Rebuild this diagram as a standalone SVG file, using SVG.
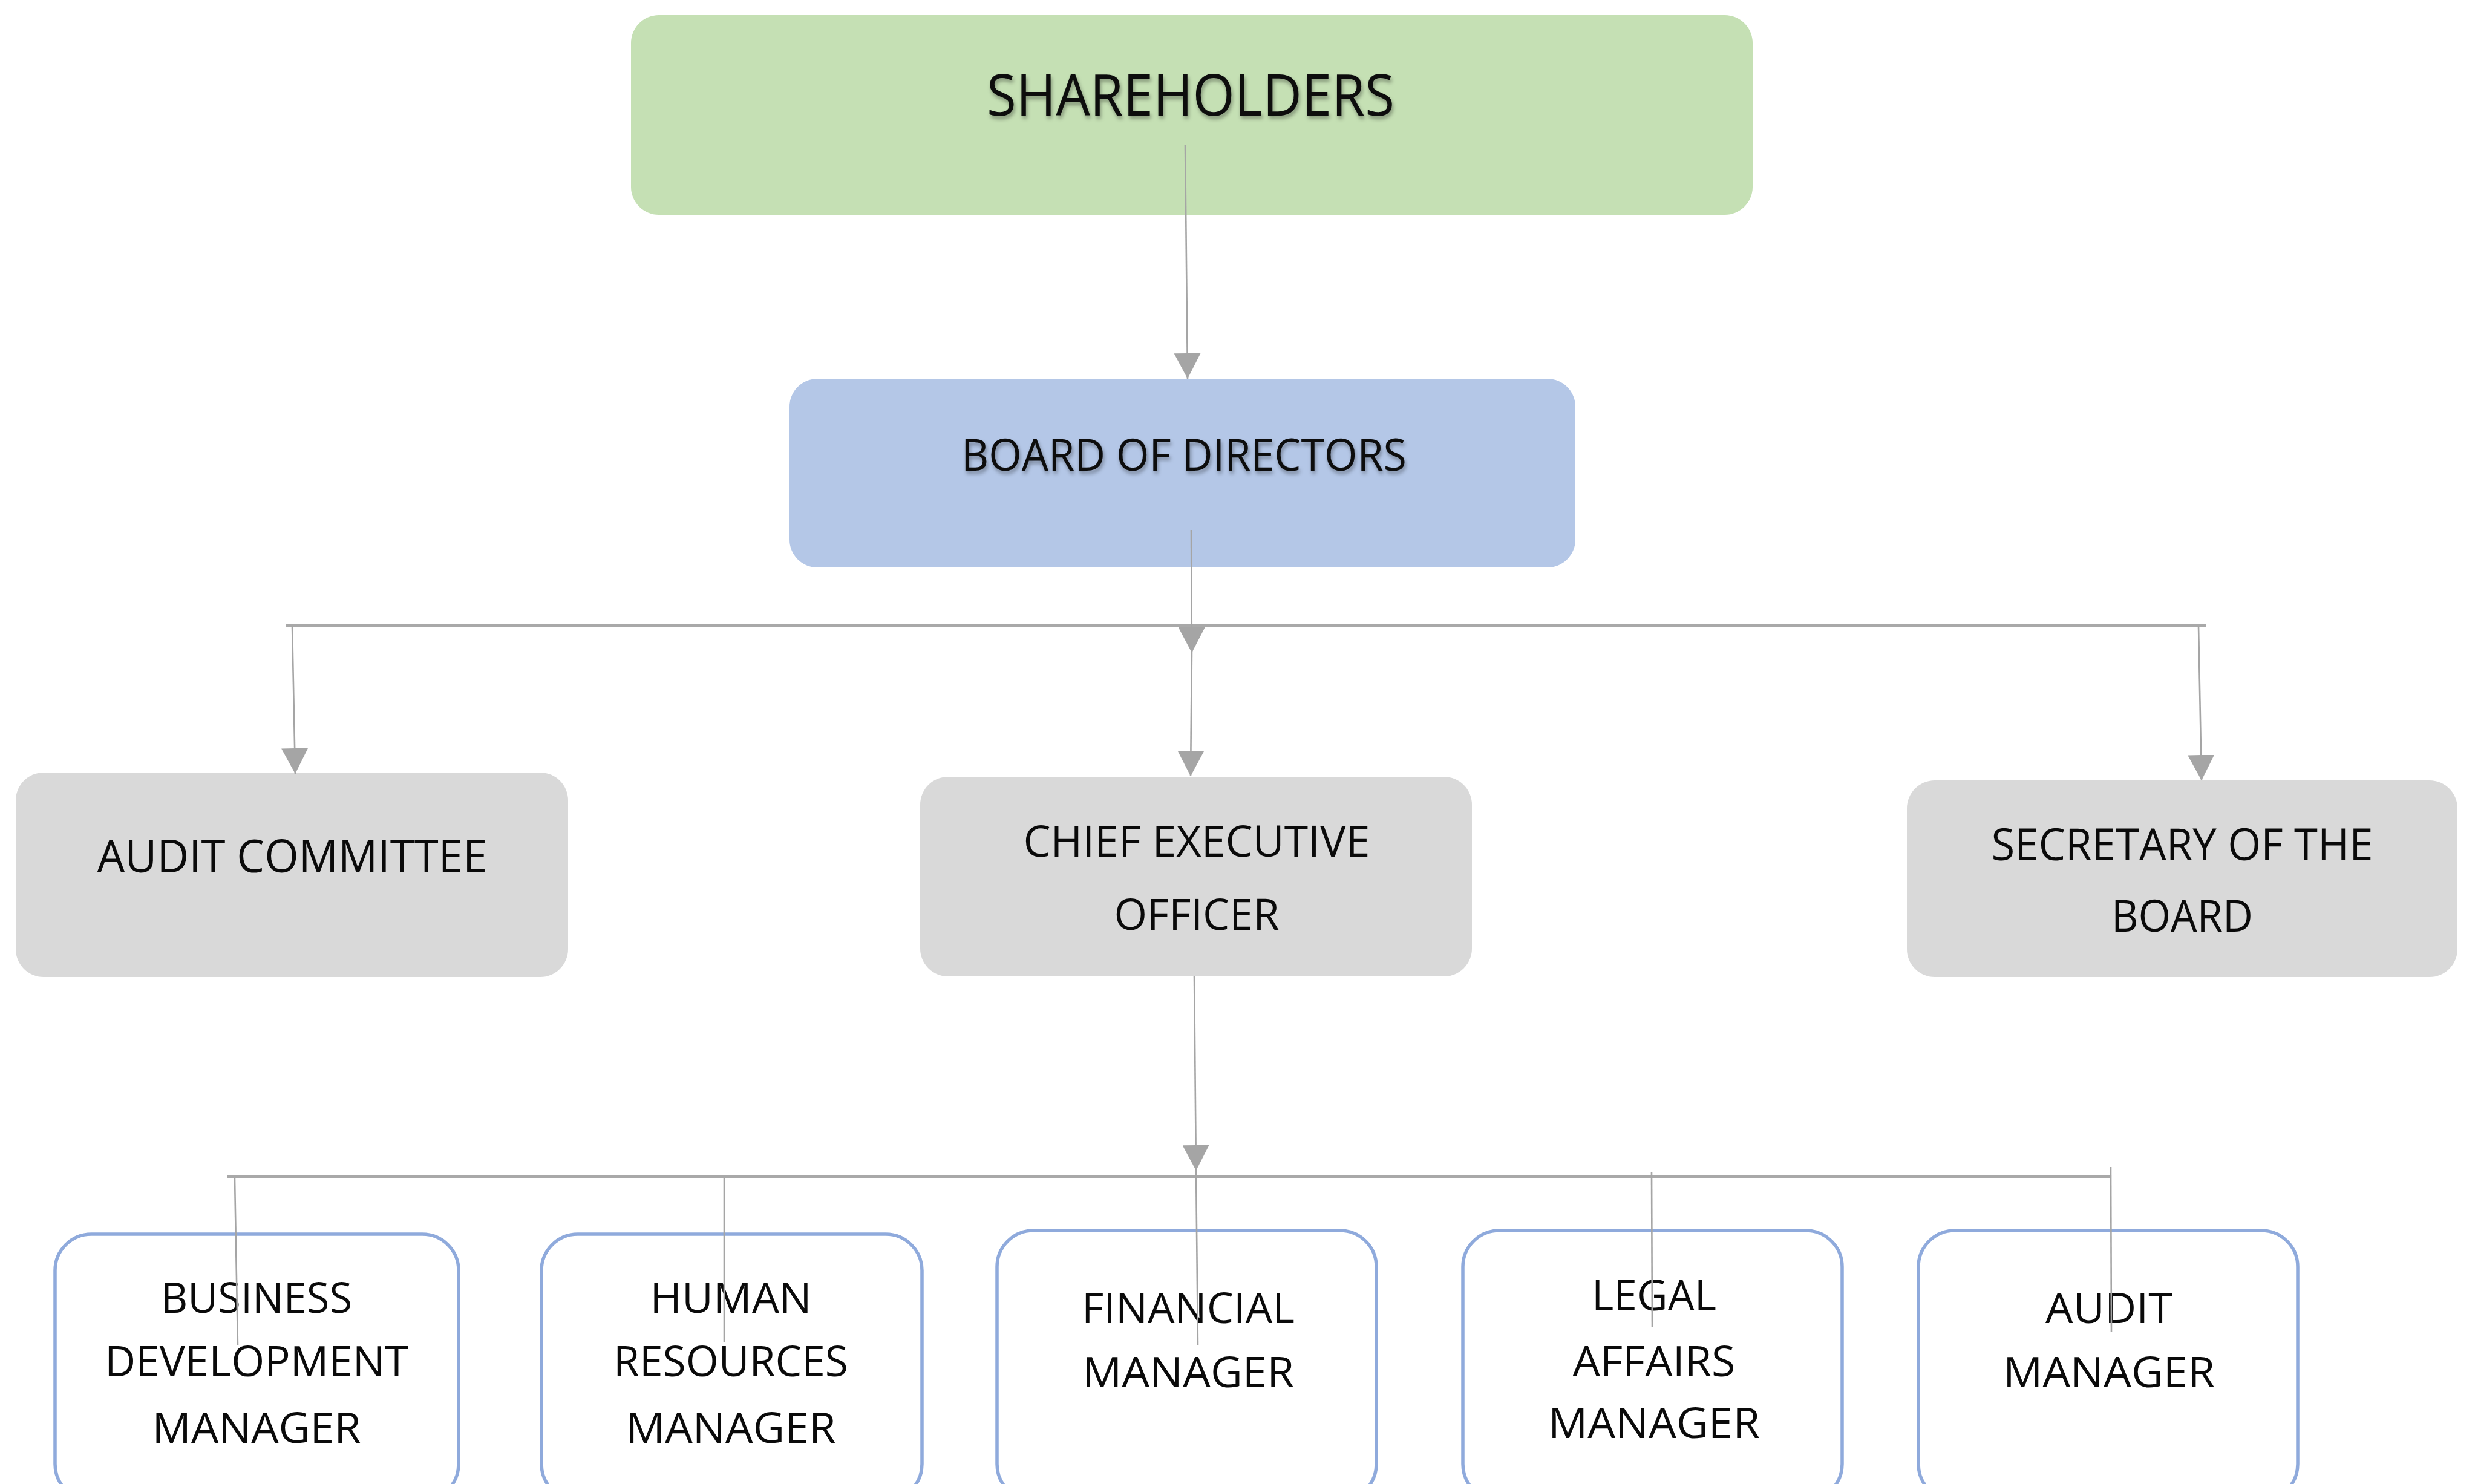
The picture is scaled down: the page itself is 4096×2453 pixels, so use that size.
<svg xmlns="http://www.w3.org/2000/svg" width="4096" height="2453" viewBox="0 0 4096 2453">
  <style>
    .lbl { font-family: "Open Sans", "Noto Sans", "Liberation Sans", sans-serif; fill: #0a0a0a; text-anchor: middle; }
    .green { fill: #C5E0B4; }
    .blue { fill: #B4C7E7; }
    .grey { fill: #D9D9D9; }
    .mgr { fill: #FFFFFF; stroke: #8FAADC; stroke-width: 5.5; }
    .link { fill: none; stroke: #A5A5A5; stroke-width: 2.6; }
    .bar { fill: none; stroke: #A9A9A9; stroke-width: 4; }
  </style>
  <defs>
    <!-- arrowhead drawn along +x so it follows the connector direction -->
    <marker id="arrow" markerUnits="userSpaceOnUse" markerWidth="44" markerHeight="44" viewBox="0 0 44 44" refX="42" refY="22" orient="auto">
      <path d="M0 0 L42 22 L0 44 Z" fill="#A5A5A5"/>
    </marker>
    <filter id="soft" x="-10%" y="-30%" width="120%" height="170%">
      <feDropShadow dx="2" dy="5" stdDeviation="3" flood-color="#000" flood-opacity="0.35"/>
    </filter>
  </defs>

  <rect width="4096" height="2453" fill="#FFFFFF"/>

  <!-- top level -->
  <g id="shareholders">
    <rect class="green" x="1043" y="25" width="1854" height="330" rx="46"/>
    <text class="lbl" x="1968" y="191" font-size="95" textLength="674" lengthAdjust="spacingAndGlyphs" filter="url(#soft)">SHAREHOLDERS</text>
  </g>

  <g id="board">
    <rect class="blue" x="1305" y="626" width="1299" height="312" rx="46"/>
    <text class="lbl" x="1957" y="778" font-size="74" textLength="736" lengthAdjust="spacingAndGlyphs" filter="url(#soft)">BOARD OF DIRECTORS</text>
  </g>

  <!-- second level -->
  <g id="audit-committee">
    <rect class="grey" x="26" y="1277" width="913" height="338" rx="46"/>
    <text class="lbl" x="483" y="1442" font-size="75" textLength="645" lengthAdjust="spacingAndGlyphs">AUDIT COMMITTEE</text>
  </g>

  <g id="ceo">
    <rect class="grey" x="1521" y="1284" width="912" height="330" rx="46"/>
    <text class="lbl" x="1978" y="1416" font-size="72" textLength="573" lengthAdjust="spacingAndGlyphs">CHIEF EXECUTIVE</text>
    <text class="lbl" x="1978" y="1537" font-size="72" textLength="273" lengthAdjust="spacingAndGlyphs">OFFICER</text>
  </g>

  <g id="secretary">
    <rect class="grey" x="3152" y="1290" width="910" height="325" rx="46"/>
    <text class="lbl" x="3607" y="1422" font-size="73" textLength="631" lengthAdjust="spacingAndGlyphs">SECRETARY OF THE</text>
    <text class="lbl" x="3607" y="1540" font-size="73" textLength="234" lengthAdjust="spacingAndGlyphs">BOARD</text>
  </g>

  <!-- managers -->
  <g id="business-development">
    <rect class="mgr" x="91" y="2040" width="667" height="440" rx="60"/>
    <text class="lbl" x="424" y="2170" font-size="70" textLength="316" lengthAdjust="spacingAndGlyphs">BUSINESS</text>
    <text class="lbl" x="424" y="2275" font-size="70" textLength="502" lengthAdjust="spacingAndGlyphs">DEVELOPMENT</text>
    <text class="lbl" x="424" y="2385" font-size="70" textLength="345" lengthAdjust="spacingAndGlyphs">MANAGER</text>
  </g>

  <g id="human-resources">
    <rect class="mgr" x="895" y="2040" width="629" height="440" rx="60"/>
    <text class="lbl" x="1208" y="2170" font-size="70" textLength="267" lengthAdjust="spacingAndGlyphs">HUMAN</text>
    <text class="lbl" x="1208" y="2275" font-size="70" textLength="388" lengthAdjust="spacingAndGlyphs">RESOURCES</text>
    <text class="lbl" x="1208" y="2385" font-size="70" textLength="347" lengthAdjust="spacingAndGlyphs">MANAGER</text>
  </g>

  <g id="financial">
    <rect class="mgr" x="1648" y="2034" width="627" height="446" rx="60"/>
    <text class="lbl" x="1964" y="2187" font-size="70" textLength="352" lengthAdjust="spacingAndGlyphs">FINANCIAL</text>
    <text class="lbl" x="1964" y="2293" font-size="70" textLength="350" lengthAdjust="spacingAndGlyphs">MANAGER</text>
  </g>

  <g id="legal-affairs">
    <rect class="mgr" x="2418" y="2034" width="627" height="446" rx="60"/>
    <text class="lbl" x="2734" y="2166" font-size="70" textLength="206" lengthAdjust="spacingAndGlyphs">LEGAL</text>
    <text class="lbl" x="2734" y="2275" font-size="70" textLength="269" lengthAdjust="spacingAndGlyphs">AFFAIRS</text>
    <text class="lbl" x="2734" y="2377" font-size="70" textLength="350" lengthAdjust="spacingAndGlyphs">MANAGER</text>
  </g>

  <g id="audit-manager">
    <rect class="mgr" x="3171" y="2034" width="627" height="446" rx="60"/>
    <text class="lbl" x="3486" y="2187" font-size="70" textLength="210" lengthAdjust="spacingAndGlyphs">AUDIT</text>
    <text class="lbl" x="3486" y="2293" font-size="70" textLength="350" lengthAdjust="spacingAndGlyphs">MANAGER</text>
  </g>

  <!-- connectors, drawn over the boxes -->
  <g id="connectors">
    <path class="link" d="M1959 240 L1963 626" marker-end="url(#arrow)"/>
    <path class="bar" d="M473 1034 L3647 1034"/>
    <path class="link" d="M1969 876 L1970 1079" marker-end="url(#arrow)"/>
    <path class="link" d="M1970 1079 L1968 1283" marker-end="url(#arrow)"/>
    <path class="link" d="M483 1035 L488 1279" marker-end="url(#arrow)"/>
    <path class="link" d="M3634 1035 L3639 1290" marker-end="url(#arrow)"/>
    <path class="link" d="M1974 1614 L1977 1935" marker-end="url(#arrow)"/>
    <path class="bar" d="M375 1945 L3489 1945"/>
    <path class="link" d="M388 1948 L393 2223"/>
    <path class="link" d="M1197 1948 L1197 2218"/>
    <path class="link" d="M1977 1935 L1980 2223"/>
    <path class="link" d="M2730 1938 L2731 2193"/>
    <path class="link" d="M3489 1929 L3490 2201"/>
  </g>
</svg>
